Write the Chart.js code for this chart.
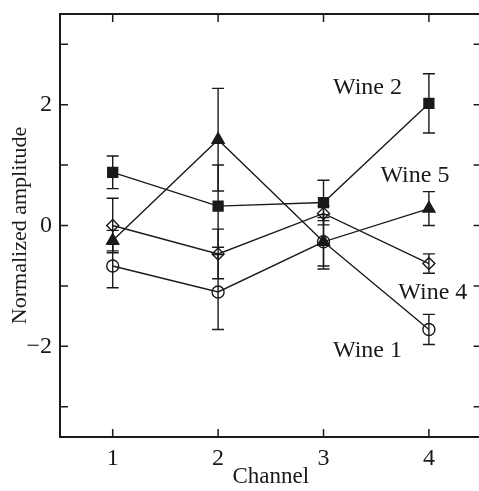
<!DOCTYPE html>
<html>
<head>
<meta charset="utf-8">
<script src="https://cdn.jsdelivr.net/npm/chart.js@4/dist/chart.umd.min.js"></script>
<style>
  html, body { margin: 0; padding: 0; background: #fff; overflow: hidden; }
  #wrap { width: 490px; height: 491px; }
</style>
</head>
<body>
<div id="wrap"><canvas id="chart" width="490" height="491"></canvas></div>
<script>
// チャンネルとワインごとの値
const channels = [1, 2, 3, 4];
const yTickLabels = [-2, 0, 2];
const yMinorTicks = [-3, -2, -1, 0, 1, 2, 3];

const wine1 = [-0.67, -1.10, -0.27, -1.72];
const wine1Err = [0.36, 0.62, 0.40, 0.25];
const wine2 = [0.88, 0.32, 0.38, 2.02];
const wine2Err = [0.27, 0.68, 0.37, 0.49];
const wine4 = [0.00, -0.47, 0.20, -0.63];
const wine4Err = [0.45, 0.41, 0.12, 0.16];
const wine5 = [-0.25, 1.42, -0.27, 0.28];
const wine5Err = [0.17, 0.85, 0.45, 0.28];

const wineNames = ['Wine 1', 'Wine 2', 'Wine 4', 'Wine 5'];

// ラベル位置（データ座標）
const labelPos = {
    'Wine 1': [3.09, -2.08],
    'Wine 2': [3.09, 2.28],
    'Wine 4': [3.71, -1.12],
    'Wine 5': [3.54, 0.83]
};

const SERIF = '"Liberation Serif", "DejaVu Serif", serif';
const INK = '#1a1a1a';

function toPoints(vals) {
    return channels.map((c, i) => ({ x: c, y: vals[i] }));
}

function makeSet(label, vals, err, style, radius, filled) {
    return {
        label,
        data: toPoints(vals),
        err,
        borderColor: INK,
        borderWidth: 1.4,
        pointStyle: style,
        pointRadius: radius,
        pointBorderWidth: 1.4,
        pointBorderColor: INK,
        pointBackgroundColor: filled ? INK : 'rgba(0,0,0,0)',
        tension: 0,
        fill: false
    };
}

const errorBars = {
    id: 'errorBars',
    beforeDatasetsDraw(chart) {
        const { ctx, scales: { x, y } } = chart;
        ctx.save();
        ctx.strokeStyle = INK;
        ctx.lineWidth = 1.4;
        chart.data.datasets.forEach(ds => {
            ds.data.forEach((p, i) => {
                const px = x.getPixelForValue(p.x);
                const top = y.getPixelForValue(p.y + ds.err[i]);
                const bot = y.getPixelForValue(p.y - ds.err[i]);
                ctx.beginPath();
                ctx.moveTo(px, top); ctx.lineTo(px, bot);
                ctx.moveTo(px - 6, top); ctx.lineTo(px + 6, top);
                ctx.moveTo(px - 6, bot); ctx.lineTo(px + 6, bot);
                ctx.stroke();
            });
        });
        ctx.restore();
    }
};

const frame = {
    id: 'frame',
    afterDraw(chart) {
        const { ctx, chartArea: { left, right, top, bottom }, scales: { x, y } } = chart;
        ctx.save();
        ctx.strokeStyle = INK;
        ctx.lineWidth = 2;
        ctx.strokeRect(left, top, right - left, bottom - top);
        ctx.lineWidth = 1.5;
        ctx.beginPath();
        channels.forEach(c => {
            const px = x.getPixelForValue(c);
            ctx.moveTo(px, bottom); ctx.lineTo(px, bottom - 8);
            ctx.moveTo(px, top); ctx.lineTo(px, top + 8);
        });
        yMinorTicks.forEach(v => {
            const py = y.getPixelForValue(v);
            ctx.moveTo(left, py); ctx.lineTo(left + 8, py);
            ctx.moveTo(right, py); ctx.lineTo(right - 8, py);
        });
        ctx.stroke();

        // ワイン名
        ctx.fillStyle = INK;
        ctx.font = '24px ' + SERIF;
        ctx.textAlign = 'left';
        ctx.textBaseline = 'middle';
        wineNames.forEach(n => {
            const [lx, ly] = labelPos[n];
            ctx.fillText(n, x.getPixelForValue(lx), y.getPixelForValue(ly));
        });
        ctx.restore();
    }
};

function noEdgePadding(s) {
    s.paddingLeft = 0;
    s.paddingRight = 0;
    s.paddingTop = 0;
    s.paddingBottom = 0;
}

new Chart(document.getElementById('chart'), {
    type: 'line',
    data: {
        datasets: [
            makeSet('Wine 1', wine1, wine1Err, 'circle', 6, false),
            makeSet('Wine 2', wine2, wine2Err, 'rect', 7, true),
            makeSet('Wine 4', wine4, wine4Err, 'rectRot', 6, false),
            makeSet('Wine 5', wine5, wine5Err, 'triangle', 7, true)
        ]
    },
    options: {
        responsive: false,
        animation: false,
        devicePixelRatio: 1,
        layout: { padding: { top: 14, right: 2, left: 0, bottom: 0 } },
        plugins: { legend: { display: false }, tooltip: { enabled: false } },
        scales: {
            x: {
                type: 'linear',
                min: 0.5,
                max: 4.5,
                afterFit(s) { s.height = 54; noEdgePadding(s); },
                afterBuildTicks(s) { s.ticks = channels.map(v => ({ value: v })); },
                grid: { display: false, drawTicks: false },
                border: { display: false },
                ticks: {
                    padding: 7,
                    color: INK,
                    font: { family: SERIF, size: 24 },
                    callback: v => String(v)
                },
                title: {
                    display: true,
                    text: 'Channel',
                    color: INK,
                    padding: 0,
                    font: { family: SERIF, size: 23 }
                }
            },
            y: {
                type: 'linear',
                min: -3.5,
                max: 3.5,
                afterFit(s) { s.width = 60; noEdgePadding(s); },
                afterBuildTicks(s) { s.ticks = yTickLabels.map(v => ({ value: v })); },
                grid: { display: false, drawTicks: false },
                border: { display: false },
                ticks: {
                    padding: 8,
                    color: INK,
                    font: { family: SERIF, size: 24 },
                    callback: v => (v < 0 ? '\u2212' + Math.abs(v) : String(v))
                },
                title: {
                    display: true,
                    text: 'Normalized amplitude',
                    color: INK,
                    padding: { top: 7, bottom: 0 },
                    font: { family: SERIF, size: 22 }
                }
            }
        }
    },
    plugins: [errorBars, frame]
});
</script>
</body>
</html>
